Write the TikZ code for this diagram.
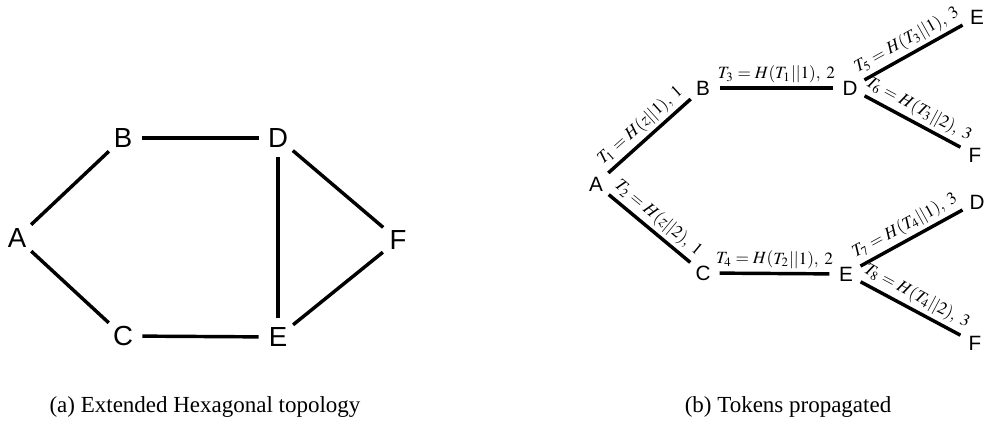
\documentclass[tikz,border=0pt]{standalone}
\usepackage{mathptmx}
\usepackage{fontspec}
\setmainfont{Liberation Serif}
\newfontfamily\vertexfont{Liberation Sans}
\begin{document}
\begin{tikzpicture}[
    x=0.435pt, y=-0.435pt,
    vertex/.style={circle, inner sep=0pt, minimum size=16.5pt, font=\vertexfont\fontsize{12}{14}\selectfont},
    leaf/.style={circle, inner sep=0pt, minimum size=14pt, font=\vertexfont\fontsize{9}{11}\selectfont},
    link/.style={line width=1.5pt},
    token/.style={font=\fontsize{7.5}{9}\selectfont, sloped, above, midway, inner sep=1.5pt}
]
\useasboundingbox (0,0) rectangle (987,430);

% Extended hexagonal topology
\begin{scope}
    \node[vertex] (hA) at (17,238) {A};
    \node[vertex] (hB) at (123,138) {B};
    \node[vertex] (hC) at (123,336) {C};
    \node[vertex] (hD) at (278,138) {D};
    \node[vertex] (hE) at (278,337) {E};
    \node[vertex] (hF) at (398,240) {F};

    % Links
    \foreach \u/\v in {A/B, B/D, D/F, A/C, C/E, E/F, D/E} {
        \draw[link] (h\u) -- (h\v);
    }

    \node (capa) at (205,407) {(a) Extended Hexagonal topology};
\end{scope}

% Tokens propagated
\begin{scope}
    \node[leaf] (tA) at (596,184) {A};
    \node[leaf] (tB) at (703,88) {B};
    \node[leaf] (tC) at (703,273) {C};
    \node[leaf] (tD) at (850,88) {D};
    \node[leaf] (tE) at (846,274) {E};
    \node[leaf] (tE1) at (977,17) {E};
    \node[leaf] (tF1) at (975,155) {F};
    \node[leaf] (tD2) at (977,202) {D};
    \node[leaf] (tF2) at (975,343) {F};

    % Links with tokens
    \draw[link] (tA) -- node[token] {$T_1 = H(z||1),\; 1$} (tB);
    \draw[link] (tA) -- node[token] {$T_2 = H(z||2),\; 1$} (tC);
    \draw[link] (tB) -- node[token] {$T_3 = H(T_1||1),\; 2$} (tD);
    \draw[link] (tC) -- node[token] {$T_4 = H(T_2||1),\; 2$} (tE);
    \draw[link] (tD) -- node[token] {$T_5 = H(T_3||1),\; 3$} (tE1);
    \draw[link] (tD) -- node[token] {$T_6 = H(T_3||2),\; 3$} (tF1);
    \draw[link] (tE) -- node[token] {$T_7 = H(T_4||1),\; 3$} (tD2);
    \draw[link] (tE) -- node[token] {$T_8 = H(T_4||2),\; 3$} (tF2);

    \node (capb) at (788,407) {(b) Tokens propagated};
\end{scope}

\end{tikzpicture}
\end{document}
